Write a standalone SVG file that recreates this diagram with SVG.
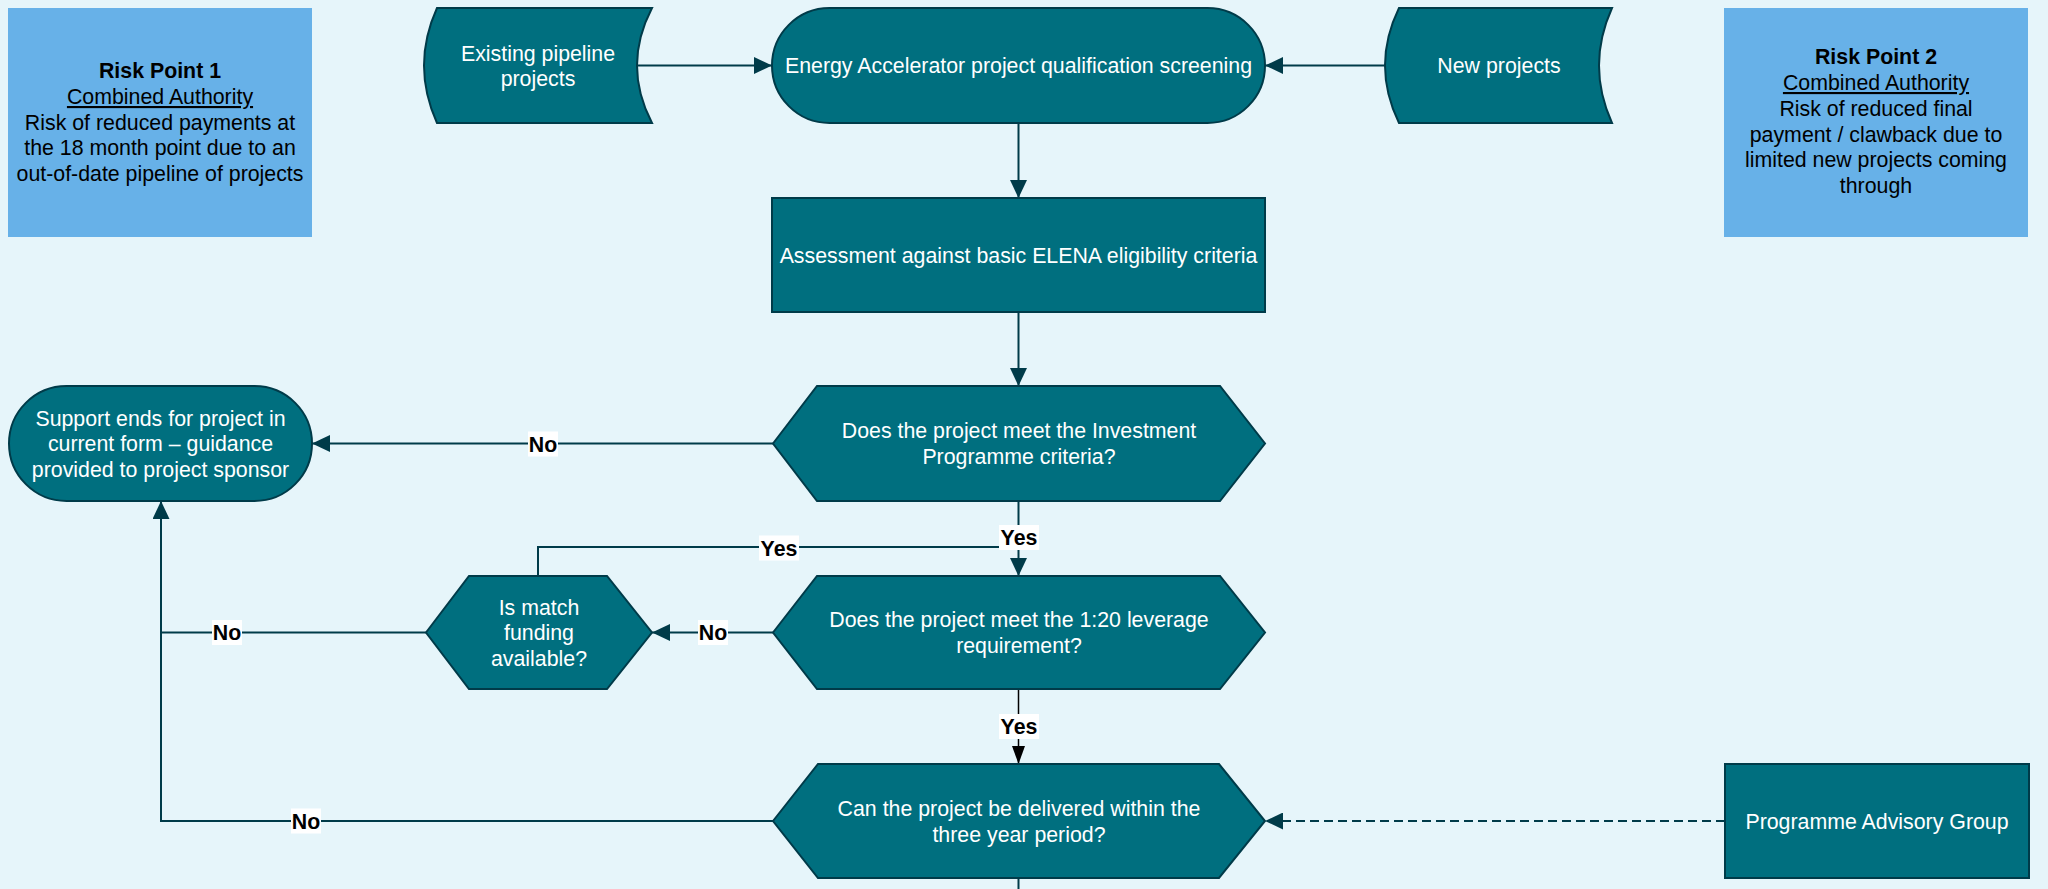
<svg xmlns="http://www.w3.org/2000/svg" width="2048" height="889" viewBox="0 0 2048 889">
<style>
.node{fill:#006F7F;stroke:#003B49;stroke-width:2}
.risk{fill:#67B1E8}
.t{font-family:"Liberation Sans",Arial,sans-serif;font-size:21.33px;text-anchor:middle}
.w{fill:#FFFFFF}
.k{fill:#000000}
.b{font-weight:bold}
.conn{stroke:#003B49;stroke-width:2;fill:none}
.connk{stroke:#000000;stroke-width:1.5;fill:none}
.dash{stroke-dasharray:9,5}
.lbg{fill:#FFFFFF}
</style>
<defs>
<marker id="ah" markerUnits="userSpaceOnUse" markerWidth="18" markerHeight="17" refX="18" refY="8.5" orient="auto">
<path d="M0,0 L18,8.5 L0,17 Z" fill="#003B49"/>
</marker>
<marker id="ahk" markerUnits="userSpaceOnUse" markerWidth="18" markerHeight="13" refX="18" refY="6.5" orient="auto">
<path d="M0,0 L18,6.5 L0,13 Z" fill="#000000"/>
</marker>
</defs>
<rect x="0" y="0" width="2048" height="889" fill="#E6F5FA"/>

<g id="connectors">
<path class="conn" d="M637,65.5 H772" marker-end="url(#ah)"/>
<path class="conn" d="M1385,65.5 H1265" marker-end="url(#ah)"/>
<path class="conn" d="M1018.5,123 V198" marker-end="url(#ah)"/>
<path class="conn" d="M1018.5,312 V386" marker-end="url(#ah)"/>
<path class="conn" d="M773,443.5 H312" marker-end="url(#ah)"/>
<path class="conn" d="M1018.5,501 V576" marker-end="url(#ah)"/>
<path class="conn" d="M538,576 V547 H1018.5"/>
<path class="conn" d="M773,632.5 H652" marker-end="url(#ah)"/>
<path class="conn" d="M426,632.5 H161"/>
<path class="conn" d="M773,821 H161 V501" marker-end="url(#ah)"/>
<path class="connk" d="M1018.5,689 V764" marker-end="url(#ahk)"/>
<path class="conn dash" d="M1725,821 H1265" marker-end="url(#ah)"/>
<path class="conn" d="M1018.5,878 V889"/>
<g id="labels">
<rect class="lbg" x="528" y="431.5" width="30" height="25"/>
<text class="t k b" x="543" y="451.5">No</text>
<rect class="lbg" x="999" y="525" width="40" height="25"/>
<text class="t k b" x="1019" y="545">Yes</text>
<rect class="lbg" x="759" y="535.5" width="40" height="25"/>
<text class="t k b" x="779" y="555.5">Yes</text>
<rect class="lbg" x="698" y="620" width="30" height="25"/>
<text class="t k b" x="713" y="640">No</text>
<rect class="lbg" x="212" y="620" width="30" height="25"/>
<text class="t k b" x="227" y="640">No</text>
<rect class="lbg" x="999" y="714" width="40" height="25"/>
<text class="t k b" x="1019" y="734">Yes</text>
<rect class="lbg" x="291" y="808.5" width="30" height="25"/>
<text class="t k b" x="306" y="828.5">No</text>
</g>
</g>

<g id="risk1">
<rect class="risk" x="8" y="8" width="304" height="229"/>
<text class="t k b" x="160" y="78">Risk Point 1</text>
<text class="t k" x="160" y="104" text-decoration="underline">Combined Authority</text>
<text class="t k" x="160" y="129.5">Risk of reduced payments at</text>
<text class="t k" x="160" y="155">the 18 month point due to an</text>
<text class="t k" x="160" y="180.5">out-of-date pipeline of projects</text>
</g>

<g id="risk2">
<rect class="risk" x="1724" y="8" width="304" height="229"/>
<text class="t k b" x="1876" y="64">Risk Point 2</text>
<text class="t k" x="1876" y="90" text-decoration="underline">Combined Authority</text>
<text class="t k" x="1876" y="116">Risk of reduced final</text>
<text class="t k" x="1876" y="141.5">payment / clawback due to</text>
<text class="t k" x="1876" y="167">limited new projects coming</text>
<text class="t k" x="1876" y="192.5">through</text>
</g>

<g id="existing">
<path class="node" d="M437,8 L652,8 Q622,65.5 652,123 L437,123 Q411,65.5 437,8 Z"/>
<text class="t w" x="538" y="60.5">Existing pipeline</text>
<text class="t w" x="538" y="86">projects</text>
</g>

<g id="energy">
<rect class="node" x="772" y="8" width="493" height="115" rx="57.5" ry="57.5"/>
<text class="t w" x="1018.5" y="73">Energy Accelerator project qualification screening</text>
</g>

<g id="newprojects">
<path class="node" d="M1399,8 L1612,8 Q1586,65.5 1612,123 L1399,123 Q1371,65.5 1399,8 Z"/>
<text class="t w" x="1499" y="73">New projects</text>
</g>

<g id="assessment">
<rect class="node" x="772" y="198" width="493" height="114"/>
<text class="t w" x="1018.5" y="262.5">Assessment against basic ELENA eligibility criteria</text>
</g>

<g id="support">
<rect class="node" x="9" y="386" width="303" height="115" rx="57.5" ry="57.5"/>
<text class="t w" x="160.5" y="425.5">Support ends for project in</text>
<text class="t w" x="160.5" y="451">current form – guidance</text>
<text class="t w" x="160.5" y="476.5">provided to project sponsor</text>
</g>

<g id="decision1">
<polygon class="node" points="773,443.5 817,386 1220,386 1265,443.5 1220,501 817,501"/>
<text class="t w" x="1019" y="438">Does the project meet the Investment</text>
<text class="t w" x="1019" y="463.5">Programme criteria?</text>
</g>

<g id="decision2">
<polygon class="node" points="773,632.5 817,576 1220,576 1265,632.5 1220,689 817,689"/>
<text class="t w" x="1019" y="627">Does the project meet the 1:20 leverage</text>
<text class="t w" x="1019" y="652.5">requirement?</text>
</g>

<g id="matchfunding">
<polygon class="node" points="426,632.5 469,576 607,576 652,632.5 607,689 469,689"/>
<text class="t w" x="539" y="614.5">Is match</text>
<text class="t w" x="539" y="640">funding</text>
<text class="t w" x="539" y="665.5">available?</text>
</g>

<g id="decision3">
<polygon class="node" points="773,821 818,764 1219,764 1265,821 1219,878 818,878"/>
<text class="t w" x="1019" y="816">Can the project be delivered within the</text>
<text class="t w" x="1019" y="842">three year period?</text>
</g>

<g id="pag">
<rect class="node" x="1725" y="764" width="304" height="114"/>
<text class="t w" x="1877" y="829">Programme Advisory Group</text>
</g>
</svg>
